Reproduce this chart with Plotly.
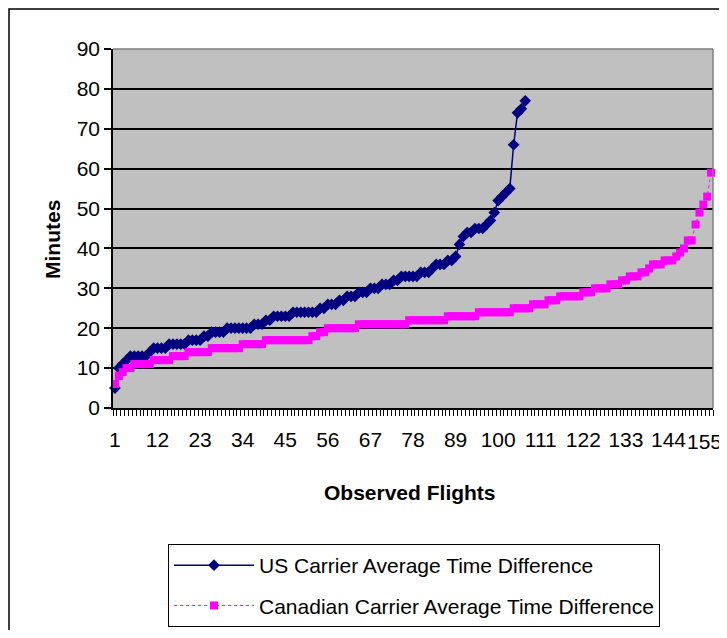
import plotly.graph_objects as go

# ---- data ----
us_values = [5, 10, 11, 12,
             13, 13, 13, 13, 13, 14,
             15, 15, 15, 15, 16,
             16, 16, 16, 16, 17, 17, 17, 17,
             18, 18, 19,
             19, 19, 19, 20, 20, 20, 20,
             20, 20, 20, 21, 21,
             21, 22, 22,
             23, 23, 23, 23, 23, 24, 24, 24, 24,
             24, 24, 24, 25,
             25, 26, 26, 26,
             27, 27, 28, 28,
             28, 29, 29, 29,
             30, 30, 30,
             31, 31, 31, 32,
             32, 33, 33, 33, 33, 33,
             34, 34, 34, 35,
             36, 36, 36, 37, 37,
             38, 41, 43,
             44, 44, 45, 45, 45, 46,
             47, 49, 52, 53, 54, 55, 66, 74, 75, 77]

canada_values = [6, 8, 9,
                 10, 10, 11, 11, 11, 11,
                 11, 12, 12, 12, 12, 12,
                 13, 13, 13, 13, 14, 14, 14, 14, 14, 14,
                 15, 15, 15, 15, 15, 15, 15, 15,
                 16, 16, 16, 16, 16, 16,
                 17, 17, 17, 17, 17, 17, 17, 17, 17, 17, 17, 17,
                 18, 18, 19, 19,
                 20, 20, 20, 20, 20, 20, 20, 20,
                 21, 21, 21, 21, 21, 21, 21, 21,
                 21, 21, 21, 21, 21, 22, 22, 22, 22, 22,
                 22, 22, 22, 22, 22, 23, 23, 23, 23, 23,
                 23, 23, 23, 24, 24, 24, 24, 24, 24,
                 24, 24, 24, 25, 25, 25, 25,
                 25, 26, 26,
                 26, 26, 27,
                 27, 27, 28, 28, 28,
                 28, 28, 28, 29, 29, 29,
                 30, 30, 30, 30, 31, 31, 31,
                 32, 32, 33, 33, 33,
                 34, 34, 35,
                 36, 36, 36, 37, 37, 37, 38,
                 39, 40, 42, 42, 46, 49, 51, 53, 59]

us_x = list(range(1, len(us_values) + 1))
canada_x = list(range(1, len(canada_values) + 1))
x_tick_labels = [1, 12, 23, 34, 45, 56, 67, 78, 89, 100, 111, 122, 133, 144, 155]
y_ticks = [0, 10, 20, 30, 40, 50, 60, 70, 80, 90]

us_name = "US Carrier Average Time Difference"
ca_name = "Canadian Carrier Average Time Difference"

FONT = "Liberation Sans, Arial, sans-serif"
FS = 21

# page offset of the figure div (default body margin)
OFF = 8
PAGE_W, PAGE_H = 727, 638
W, H = PAGE_W - OFF, PAGE_H - 2 * OFF
# plot area in page pixels
PL, PR, PT, PB = 113, 713, 49, 408
L, R, T, B = PL - OFF, W - (PR - OFF), PT - OFF, H - (PB - OFF)
pw = PR - PL
ph = PB - PT


def px_x(px):
    return (px - PL) / pw


def px_y(py):
    return (PB - py) / ph


fig = go.Figure()
fig.add_trace(go.Scatter(
    x=us_x, y=us_values, name=us_name, mode="lines+markers",
    legendgroup="us",
    line=dict(color="#000080", width=1.5),
    marker=dict(symbol="diamond", size=9, color="#000080"),
    cliponaxis=False,
))
fig.add_trace(go.Scatter(
    x=canada_x, y=canada_values, name=ca_name, mode="lines+markers",
    legendgroup="ca",
    line=dict(color="#FF00FF", width=1, dash="dot"),
    marker=dict(symbol="square", size=8, color="#FF00FF"),
    cliponaxis=False,
))

# the last label sits at the right edge; it is drawn as an annotation
# nudged slightly left so that it stays visible
tick_text = [str(v) for v in x_tick_labels]
last_label = tick_text[-1]
tick_text[-1] = ""

fig.update_layout(
    width=W, height=H,
    margin=dict(l=L, r=R, t=T, b=B, pad=0, autoexpand=False),
    paper_bgcolor="white",
    plot_bgcolor="#C0C0C0",
    font=dict(family=FONT, size=FS, color="black"),
    showlegend=True,
    legend=dict(
        x=px_x(168), y=px_y(544), xanchor="left", yanchor="top",
        bgcolor="white", bordercolor="black", borderwidth=1,
        font=dict(family=FONT, size=FS, color="black"),
        traceorder="grouped", tracegroupgap=10, itemwidth=80,
    ),
    xaxis=dict(
        range=[0.5, len(canada_values) + 0.5],
        tickmode="array", tickvals=x_tick_labels,
        ticktext=tick_text,
        tickangle=0,
        ticks="", showgrid=False, zeroline=False,
        showline=True, linecolor="black", linewidth=1.5,
        ticklabelstandoff=12, ticklabeloverflow="allow",
        tickfont=dict(family=FONT, size=FS),
        minor=dict(tick0=0.5, dtick=1, ticks="outside", ticklen=6,
                   tickcolor="black", tickwidth=1, showgrid=False),
    ),
    yaxis=dict(
        range=[0, 90], tickvals=y_ticks,
        ticks="outside", ticklen=7, tickcolor="black", tickwidth=1.5,
        showgrid=True, gridcolor="black", gridwidth=1.5,
        zeroline=False, showline=True, linecolor="black", linewidth=1.5,
        tickfont=dict(family=FONT, size=FS),
    ),
    shapes=[
        dict(type="line", xref="paper", yref="paper", x0=0, x1=1, y0=1, y1=1,
             line=dict(color="#808080", width=1.5)),
        dict(type="line", xref="paper", yref="paper", x0=1, x1=1, y0=0, y1=1,
             line=dict(color="#808080", width=1.5)),
        dict(type="rect", xref="paper", yref="paper",
             x0=px_x(OFF + 1), x1=px_x(900), y0=px_y(OFF + 1), y1=px_y(900),
             line=dict(color="black", width=1.5), fillcolor="rgba(0,0,0,0)",
             layer="below"),
    ],
    annotations=[
        dict(text=last_label, xref="x", yref="paper",
             x=x_tick_labels[-1], y=px_y(441), xshift=-7, showarrow=False,
             font=dict(family=FONT, size=FS, color="black"),
             xanchor="center", yanchor="middle"),
        dict(text="<b>Minutes</b>", xref="paper", yref="paper",
             x=px_x(52), y=px_y(240), showarrow=False, textangle=-90,
             font=dict(family=FONT, size=FS, color="black"),
             xanchor="center", yanchor="middle"),
        dict(text="<b>Observed Flights</b>", xref="paper", yref="paper",
             x=px_x(410), y=px_y(492), showarrow=False,
             font=dict(family=FONT, size=FS, color="black"),
             xanchor="center", yanchor="middle"),
    ],
)

fig.write_html("out.html")
